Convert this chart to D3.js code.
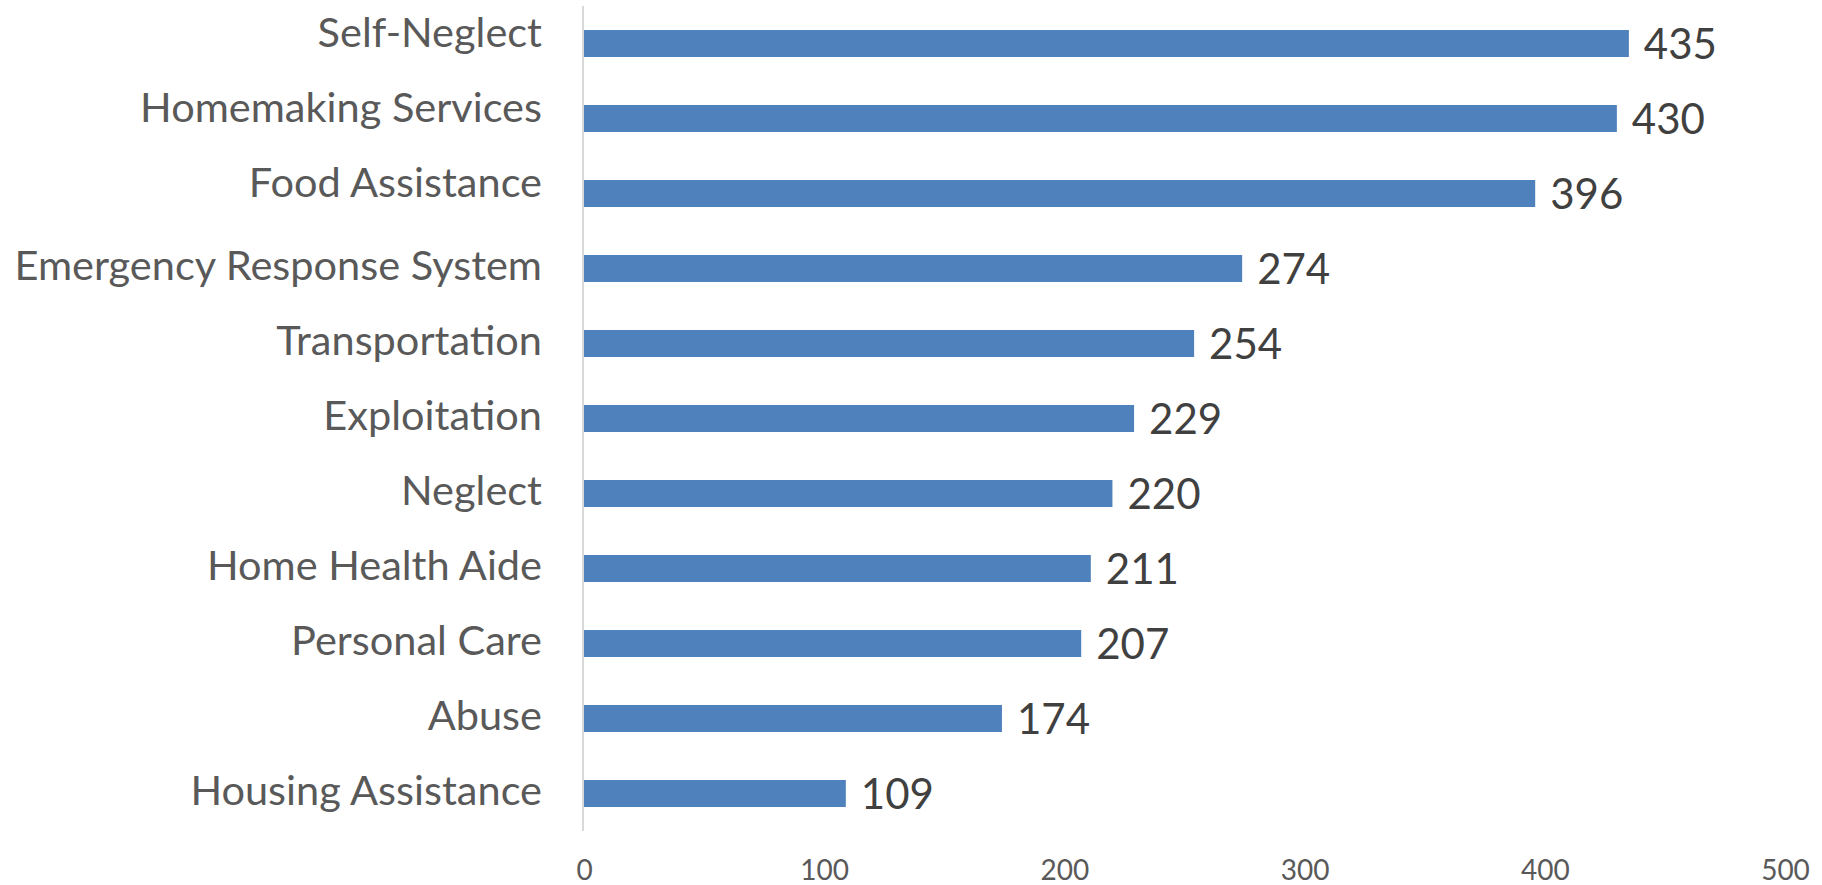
<!DOCTYPE html>
<html>
<head>
<meta charset="utf-8">
<script src="https://cdn.jsdelivr.net/npm/d3@7"></script>
<style>
  html, body { margin: 0; padding: 0; background: #fff; }
  svg { display: block; }
</style>
</head>
<body>
<svg id="chart" width="1822" height="885"></svg>
<script>
const categories = ["Self-Neglect", "Homemaking Services", "Food Assistance", "Emergency Response System",
  "Transportation", "Exploitation", "Neglect", "Home Health Aide", "Personal Care", "Abuse", "Housing Assistance"];
const values = [435, 430, 396, 274, 254, 229, 220, 211, 207, 174, 109];
const xTicks = [0, 100, 200, 300, 400, 500];

const svg = d3.select("#chart");
const font = "Lato, 'Open Sans', sans-serif";

const x = d3.scaleLinear().domain([0, 500]).range([584, 1785]);
const y = d3.scaleBand().domain(categories).range([6, 831]).paddingInner(0.64).paddingOuter(0.32);

// bars
svg.append("g").selectAll("rect").data(values).join("rect")
  .attr("x", x(0))
  .attr("y", (d, i) => y(categories[i]))
  .attr("width", d => x(d) - x(0))
  .attr("height", y.bandwidth())
  .attr("fill", "#4F81BD");

// vertical axis line
svg.append("line")
  .attr("x1", 583).attr("x2", 583)
  .attr("y1", y.range()[0]).attr("y2", y.range()[1])
  .attr("stroke", "#D9D9D9").attr("stroke-width", 2);

// category labels
svg.append("g").selectAll("text").data(categories).join("text")
  .attr("x", 542)
  .attr("y", (d, i) => y(d) + y.bandwidth() / 2 + (i < 3 ? -11 : -3))
  .attr("dy", "0.36em")
  .attr("text-anchor", "end")
  .attr("font-family", font)
  .attr("font-size", 41.5)
  .attr("fill", "#595959")
  .text(d => d);

// value labels
svg.append("g").selectAll("text").data(values).join("text")
  .attr("x", d => x(d) + 15)
  .attr("y", (d, i) => y(categories[i]) + y.bandwidth() / 2)
  .attr("dy", "0.36em")
  .attr("font-family", font)
  .attr("font-size", 42)
  .attr("fill", "#404040")
  .text(d => d);

// x axis tick labels
const xAxis = d3.axisBottom(x).tickValues(xTicks).tickSize(0).tickPadding(0);
const gx = svg.append("g").attr("transform", "translate(0,860)").call(xAxis);
gx.select(".domain").remove();
gx.selectAll("text")
  .attr("font-family", font)
  .attr("font-size", 28)
  .attr("fill", "#595959")
  .attr("dy", "0.72em");
</script>
</body>
</html>
